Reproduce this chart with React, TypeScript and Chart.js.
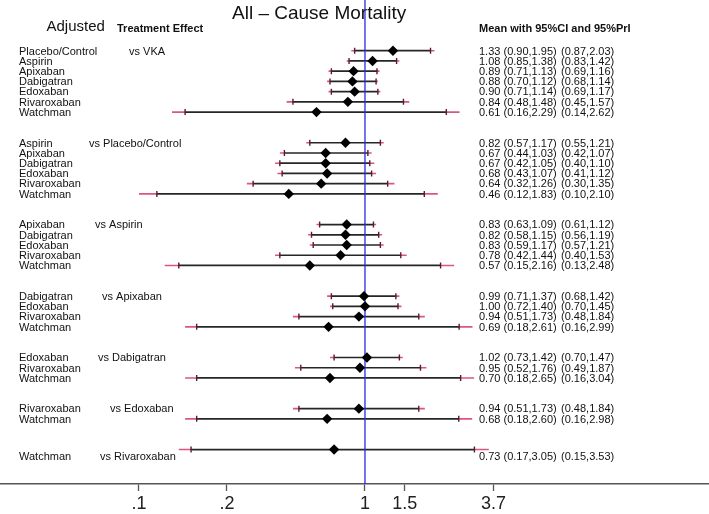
import React, { useEffect, useRef } from "react";
import { Chart, registerables } from "chart.js";
Chart.register(...registerables);

const TITLE = "All – Cause Mortality";
const HEAD_LEFT = "Adjusted";
const HEAD_EFFECT = "Treatment Effect";
const HEAD_RIGHT = "Mean with 95%CI and 95%PrI";

const COMPARATORS = ["vs VKA", "vs Placebo/Control", "vs Aspirin", "vs Apixaban", "vs Dabigatran", "vs Edoxaban", "vs Rivaroxaban"];
const GROUP_SIZES = [7, 6, 5, 4, 3, 2, 1];

const TREATMENTS = [
  "Placebo/Control", "Aspirin", "Apixaban", "Dabigatran", "Edoxaban", "Rivaroxaban", "Watchman",
  "Aspirin", "Apixaban", "Dabigatran", "Edoxaban", "Rivaroxaban", "Watchman",
  "Apixaban", "Dabigatran", "Edoxaban", "Rivaroxaban", "Watchman",
  "Dabigatran", "Edoxaban", "Rivaroxaban", "Watchman",
  "Edoxaban", "Rivaroxaban", "Watchman",
  "Rivaroxaban", "Watchman",
  "Watchman",
];
const MEAN = [1.33, 1.08, 0.89, 0.88, 0.90, 0.84, 0.61, 0.82, 0.67, 0.67, 0.68, 0.64, 0.46, 0.83, 0.82, 0.83, 0.78, 0.57, 0.99, 1.00, 0.94, 0.69, 1.02, 0.95, 0.70, 0.94, 0.68, 0.73];
const CI_LOW = [0.90, 0.85, 0.71, 0.70, 0.71, 0.48, 0.16, 0.57, 0.44, 0.42, 0.43, 0.32, 0.12, 0.63, 0.58, 0.59, 0.42, 0.15, 0.71, 0.72, 0.51, 0.18, 0.73, 0.52, 0.18, 0.51, 0.18, 0.17];
const CI_HIGH = [1.95, 1.38, 1.13, 1.12, 1.14, 1.48, 2.29, 1.17, 1.03, 1.05, 1.07, 1.26, 1.83, 1.09, 1.15, 1.17, 1.44, 2.16, 1.37, 1.40, 1.73, 2.61, 1.42, 1.76, 2.65, 1.73, 2.60, 3.05];
const PRI_LOW = [0.87, 0.83, 0.69, 0.68, 0.69, 0.45, 0.14, 0.55, 0.42, 0.40, 0.41, 0.30, 0.10, 0.61, 0.56, 0.57, 0.40, 0.13, 0.68, 0.70, 0.48, 0.16, 0.70, 0.49, 0.16, 0.48, 0.16, 0.15];
const PRI_HIGH = [2.03, 1.42, 1.16, 1.14, 1.17, 1.57, 2.62, 1.21, 1.07, 1.10, 1.12, 1.35, 2.10, 1.12, 1.19, 1.21, 1.53, 2.48, 1.42, 1.45, 1.84, 2.99, 1.47, 1.87, 3.04, 1.84, 2.98, 3.53];

const TICK_VALUES = [0.1, 0.245, 1, 1.5, 3.7];
const TICK_LABELS = [".1", ".2", "1", "1.5", "3.7"];

// layout (pixels)
const W = 709;
const H = 514;
const VS_X = [129, 89, 95, 102, 98, 110, 100];
const FONT = "'Liberation Sans', Arial, Helvetica, sans-serif";

// row index for each treatment (two blank rows between groups)
const ROWS: number[] = [];
const GROUP_OF: number[] = [];
{
  let r = 0;
  GROUP_SIZES.forEach((n, g) => {
    for (let j = 0; j < n; j++) {
      ROWS.push(r + j);
      GROUP_OF.push(g);
    }
    r += n + 2;
  });
}

const f2 = (v: number) => v.toFixed(2);

export default function App() {
  const ref = useRef<HTMLCanvasElement | null>(null);

  useEffect(() => {
    document.body.style.margin = "0";
    const canvas = ref.current;
    if (!canvas) return;

    const errorBars = {
      id: "errorBars",
      beforeDatasetsDraw(chart: any) {
        const { ctx, scales } = chart;
        const xs = scales.x;
        const ys = scales.y;
        ctx.save();
        for (let i = 0; i < MEAN.length; i++) {
          const y = ys.getPixelForValue(ROWS[i]);
          const pl = xs.getPixelForValue(PRI_LOW[i]);
          const ph = xs.getPixelForValue(PRI_HIGH[i]);
          const cl = xs.getPixelForValue(CI_LOW[i]);
          const ch = xs.getPixelForValue(CI_HIGH[i]);
          ctx.lineCap = "butt";
          ctx.strokeStyle = "#d9577f";
          ctx.lineWidth = 1.6;
          ctx.beginPath();
          ctx.moveTo(pl, y);
          ctx.lineTo(cl, y);
          ctx.moveTo(ch, y);
          ctx.lineTo(ph, y);
          ctx.stroke();
          ctx.strokeStyle = "#262626";
          ctx.lineWidth = 1.7;
          ctx.beginPath();
          ctx.moveTo(cl, y);
          ctx.lineTo(ch, y);
          ctx.stroke();
          ctx.strokeStyle = "#5b1a2c";
          ctx.lineWidth = 1.4;
          ctx.beginPath();
          ctx.moveTo(cl, y - 3);
          ctx.lineTo(cl, y + 3);
          ctx.moveTo(ch, y - 3);
          ctx.lineTo(ch, y + 3);
          ctx.stroke();
        }
        ctx.restore();
      },
    };

    const texts = {
      id: "texts",
      afterDraw(chart: any) {
        const { ctx, scales } = chart;
        const ys = scales.y;
        ctx.save();
        ctx.fillStyle = "#111";
        ctx.textAlign = "left";
        ctx.textBaseline = "alphabetic";
        ctx.font = `19px ${FONT}`;
        ctx.fillText(TITLE, 232, 18.5);
        ctx.font = `15px ${FONT}`;
        ctx.fillText(HEAD_LEFT, 46.5, 30.7);
        ctx.font = `bold 11px ${FONT}`;
        ctx.fillText(HEAD_EFFECT, 117, 31.5);
        ctx.fillText(HEAD_RIGHT, 479, 31.5);

        ctx.font = `11px ${FONT}`;
        ctx.textBaseline = "middle";
        for (let i = 0; i < MEAN.length; i++) {
          const last = i === MEAN.length - 1;
          const y = ys.getPixelForValue(ROWS[i]) + (last ? 7.5 : 0.8);
          ctx.fillText(TREATMENTS[i], 19, y);
          const g = GROUP_OF[i];
          if (i === 0 || GROUP_OF[i - 1] !== g) ctx.fillText(COMPARATORS[g], VS_X[g], y);
          ctx.fillText(`${f2(MEAN[i])} (${f2(CI_LOW[i])},${f2(CI_HIGH[i])})`, 479, y);
          ctx.fillText(`(${f2(PRI_LOW[i])},${f2(PRI_HIGH[i])})`, 561, y);
        }
        ctx.restore();
      },
    };

    const yMin = -4.96;
    const yMax = 42.37;

    const chart = new Chart(canvas, {
      type: "scatter",
      data: {
        datasets: [
          {
            type: "scatter",
            data: MEAN.map((m, i) => ({ x: m, y: ROWS[i] })),
            pointStyle: "rectRot",
            pointRadius: 5.2,
            pointBackgroundColor: "#000",
            pointBorderColor: "#000",
            pointBorderWidth: 0,
            order: 1,
          },
          {
            type: "line",
            data: [
              { x: 1, y: yMin },
              { x: 1, y: yMax },
            ],
            borderColor: "#2a2ae6",
            borderWidth: 1.3,
            pointRadius: 0,
            fill: false,
            order: 2,
          },
        ],
      },
      options: {
        animation: false,
        responsive: false,
        maintainAspectRatio: false,
        layout: { padding: 0, autoPadding: false },
        plugins: { legend: { display: false }, tooltip: { enabled: false }, title: { display: false } },
        scales: {
          x: {
            type: "logarithmic",
            position: "bottom",
            min: 0.02427,
            max: 33.28,
            afterBuildTicks: (s: any) => {
              s.ticks = TICK_VALUES.map((v) => ({ value: v }));
            },
            afterFit: (s: any) => {
              s.height = 30;
              s.paddingLeft = 0;
              s.paddingRight = 0;
            },
            ticks: {
              autoSkip: false,
              maxRotation: 0,
              padding: 2.5,
              color: "#222",
              font: { size: 18, family: FONT },
              callback: (_v: any, i: number) => TICK_LABELS[i],
            },
            grid: { drawOnChartArea: false, drawTicks: true, tickLength: 7, tickColor: "#555", tickWidth: 1.3 },
            border: { display: true, color: "#555", width: 1.5 },
          },
          y: { type: "linear", min: yMin, max: yMax, reverse: true, display: false },
        },
      },
      plugins: [errorBars, texts],
    });
    return () => chart.destroy();
  }, []);

  return (
    <div style={{ width: W, height: H, background: "#fff" }}>
      <canvas ref={ref} width={W} height={H} style={{ display: "block" }} />
    </div>
  );
}
